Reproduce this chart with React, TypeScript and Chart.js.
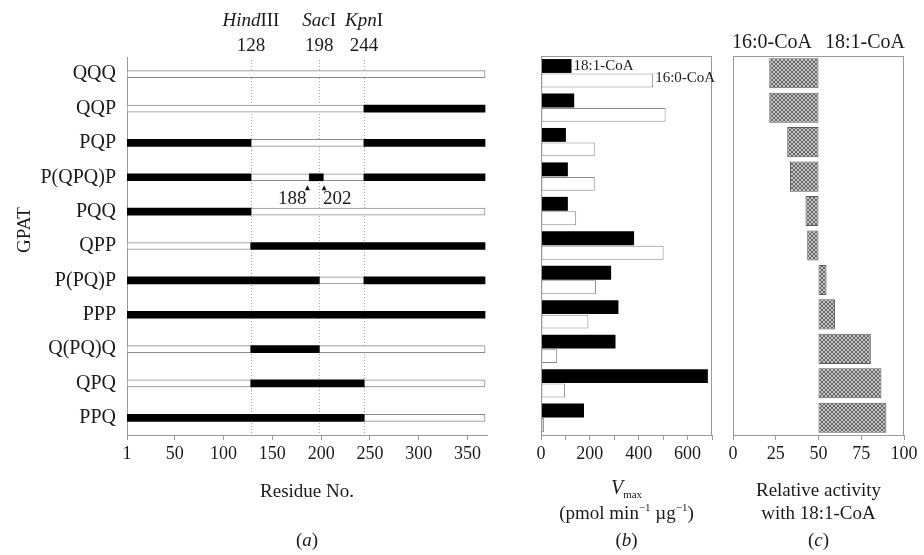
import React, { useEffect, useRef } from 'react';
import { Chart, registerables } from 'chart.js';

Chart.register(...registerables);

// ---------------- data ----------------
const constructs = ['QQQ', 'QQP', 'PQP', 'P(QPQ)P', 'PQQ', 'QPP', 'P(PQ)P', 'PPP', 'Q(PQ)Q', 'QPQ', 'PPQ'];
// residue boundaries of the swapped regions
const regionBounds = [1, 128, 188, 198, 202, 244, 368];
// origin (P or Q) of each region for every construct
const regionSources = ['QQQQQQ', 'QQQQQP', 'PQQQQP', 'PQPPQP', 'PQQQQQ', 'QPPPPP', 'PPPQQP', 'PPPPPP', 'QPPQQQ', 'QPPPPQ', 'PPPPPQ'];
const siteNames = ['Hind', 'Sac', 'Kpn'];
const siteSuffix = ['III', 'I', 'I'];
const sitePositions = [128, 198, 244];
const arrowSites = [188, 202];
const residueTicks = [1, 50, 100, 150, 200, 250, 300, 350];

const vmax181CoA = [125, 136, 102, 110, 110, 381, 287, 317, 305, 683, 176];
const vmax160CoA = [459, 510, 220, 220, 144, 502, 225, 194, 66, 98, 12];
const relActivity181 = [21.2, 21.2, 31.7, 33.3, 42.4, 43.4, 54.7, 59.7, 80.6, 86.8, 89.7];

// ---------------- helpers ----------------
const SERIF = "'Liberation Serif', 'Times New Roman', serif";
const TXT = '#1a1a1a';
type Run = { t: string; size: number; italic?: boolean; dy?: number };
const fontOf = (r: Run) => `${r.italic ? 'italic ' : ''}${r.size}px ${SERIF}`;

function drawRuns(ctx: CanvasRenderingContext2D, runs: Run[], x: number, y: number, align: 'left' | 'center' | 'right' = 'center') {
  ctx.save();
  ctx.fillStyle = TXT;
  ctx.textBaseline = 'middle';
  ctx.textAlign = 'left';
  let total = 0;
  const widths = runs.map((r) => {
    ctx.font = fontOf(r);
    const w = ctx.measureText(r.t).width;
    total += w;
    return w;
  });
  let cx = align === 'center' ? x - total / 2 : align === 'right' ? x - total : x;
  runs.forEach((r, i) => {
    ctx.font = fontOf(r);
    ctx.fillText(r.t, cx, y + (r.dy || 0));
    cx += widths[i];
  });
  ctx.restore();
}

function runsOf(src: string) {
  const out: { type: string; start: number; end: number }[] = [];
  for (let i = 0; i < src.length; i++) {
    const type = src[i];
    const last = out[out.length - 1];
    if (last && last.type === type) last.end = regionBounds[i + 1];
    else out.push({ type, start: regionBounds[i], end: regionBounds[i + 1] });
  }
  return out;
}

function makeHatch(): CanvasPattern | string {
  const c = document.createElement('canvas');
  c.width = 4;
  c.height = 4;
  const g = c.getContext('2d');
  if (!g) return '#999';
  g.fillStyle = '#c4c4c4';
  g.fillRect(0, 0, 4, 4);
  g.fillStyle = '#666';
  for (let i = 0; i < 4; i++) {
    g.fillRect(i, i, 1, 1);
    g.fillRect(3 - i, i, 1, 1);
  }
  return g.createPattern(c, 'repeat') || '#999';
}

const tickFont = { family: SERIF, size: 18 };
const axisGrey = '#9a9a9a';

// ---------------- panel (a) ----------------
function makeA(canvas: HTMLCanvasElement) {
  const rowRuns = regionSources.map(runsOf);
  const datasets: any[] = [];
  (['P', 'Q'] as const).forEach((type) => {
    const maxN = Math.max(...rowRuns.map((r) => r.filter((s) => s.type === type).length));
    for (let k = 0; k < maxN; k++) {
      datasets.push({
        label: `${type}${k}`,
        data: rowRuns.map((r) => {
          const s = r.filter((q) => q.type === type)[k];
          return s ? [s.start, s.end] : null;
        }),
        backgroundColor: type === 'P' ? '#000' : '#fff',
        borderColor: type === 'P' ? '#000' : '#8a8a8a',
        borderWidth: type === 'P' ? 0 : 1,
        borderSkipped: false,
        barThickness: 7,
        grouped: false,
        order: type === 'P' ? 0 : 1,
      });
    }
  });

  const deco = {
    id: 'decoA',
    beforeDatasetsDraw(chart: any) {
      const { ctx, chartArea, scales } = chart;
      ctx.save();
      ctx.strokeStyle = '#a8a8a8';
      ctx.lineWidth = 1;
      ctx.setLineDash([1, 2]);
      sitePositions.forEach((p) => {
        const x = Math.round(scales.x.getPixelForValue(p)) + 0.5;
        ctx.beginPath();
        ctx.moveTo(x, 60);
        ctx.lineTo(x, chartArea.bottom);
        ctx.stroke();
      });
      ctx.restore();
    },
    afterDraw(chart: any) {
      const { ctx, chartArea, scales } = chart;
      sitePositions.forEach((p, i) => {
        const x = scales.x.getPixelForValue(p);
        drawRuns(ctx, [{ t: siteNames[i], size: 19, italic: true }, { t: siteSuffix[i], size: 19 }], x, 21);
        drawRuns(ctx, [{ t: String(p), size: 19 }], x, 46);
      });
      // arrows under P(QPQ)P
      const rowY = scales.y.getPixelForValue(3);
      ctx.save();
      ctx.fillStyle = '#111';
      arrowSites.forEach((p, i) => {
        const x = scales.x.getPixelForValue(p) + (i === 0 ? -2 : 1);
        ctx.beginPath();
        ctx.moveTo(x, rowY + 8);
        ctx.lineTo(x - 2.5, rowY + 13);
        ctx.lineTo(x + 2.5, rowY + 13);
        ctx.closePath();
        ctx.fill();
        if (i === 0) drawRuns(ctx, [{ t: String(p), size: 19 }], x - 1, rowY + 22, 'right');
        else drawRuns(ctx, [{ t: String(p), size: 19 }], x - 1, rowY + 22, 'left');
      });
      ctx.restore();
      // GPAT
      ctx.save();
      ctx.translate(25, 230);
      ctx.rotate(-Math.PI / 2);
      drawRuns(ctx, [{ t: 'GPAT', size: 19 }], 0, 0);
      ctx.restore();
      const cx = (chartArea.left + chartArea.right) / 2;
      drawRuns(ctx, [{ t: 'Residue No.', size: 19 }], cx, 492);
      drawRuns(ctx, [{ t: '(', size: 19 }, { t: 'a', size: 19, italic: true }, { t: ')', size: 19 }], cx, 541);
    },
  };

  return new Chart(canvas, {
    type: 'bar',
    data: { labels: constructs, datasets },
    options: {
      indexAxis: 'y',
      responsive: false,
      animation: false,
      devicePixelRatio: 1,
      layout: { padding: { left: 0, top: 57, right: 437, bottom: 0 } },
      plugins: { legend: { display: false }, tooltip: { enabled: false } },
      scales: {
        x: {
          type: 'linear',
          min: 1,
          max: 370,
          afterBuildTicks: (s: any) => {
            s.ticks = residueTicks.map((value) => ({ value }));
          },
          afterFit: (s: any) => {
            s.height = 120;
          },
          grid: { display: true, drawOnChartArea: false, tickLength: 5, color: axisGrey },
          border: { display: true, color: axisGrey },
          ticks: { font: tickFont, color: TXT, padding: 3, maxRotation: 0, autoSkip: false },
        },
        y: {
          type: 'category',
          afterFit: (s: any) => {
            s.width = 127;
          },
          grid: { display: false },
          border: { display: true, color: axisGrey },
          ticks: { font: { family: SERIF, size: 20 }, color: TXT, padding: 3 },
        },
      },
    },
    plugins: [deco],
  } as any);
}

// ---------------- panel (b) ----------------
function makeB(canvas: HTMLCanvasElement) {
  const deco = {
    id: 'decoB',
    afterDraw(chart: any) {
      const { ctx, chartArea } = chart;
      ctx.save();
      ctx.strokeStyle = axisGrey;
      ctx.lineWidth = 1;
      ctx.strokeRect(chartArea.left + 0.5, chartArea.top + 0.5, chartArea.width - 1, chartArea.height);
      ctx.restore();
      const b0 = chart.getDatasetMeta(0).data[0];
      const w0 = chart.getDatasetMeta(1).data[0];
      drawRuns(ctx, [{ t: '18:1-CoA', size: 15 }], b0.x + 2, b0.y, 'left');
      drawRuns(ctx, [{ t: '16:0-CoA', size: 15 }], w0.x + 2, w0.y - 2, 'left');
      const cx = (chartArea.left + chartArea.right) / 2;
      drawRuns(ctx, [{ t: 'V', size: 20, italic: true }, { t: 'max', size: 11, dy: 6 }], cx, 489);
      drawRuns(
        ctx,
        [
          { t: '(pmol min', size: 19 },
          { t: '\u22121', size: 11, dy: -6 },
          { t: ' \u00b5g', size: 19 },
          { t: '\u22121', size: 11, dy: -6 },
          { t: ')', size: 19 },
        ],
        cx,
        514,
      );
      drawRuns(ctx, [{ t: '(', size: 19 }, { t: 'b', size: 19, italic: true }, { t: ')', size: 19 }], cx, 541);
    },
  };
  return new Chart(canvas, {
    type: 'bar',
    data: {
      labels: constructs,
      datasets: [
        {
          label: '18:1-CoA',
          data: vmax181CoA,
          backgroundColor: '#000',
          borderWidth: 0,
          categoryPercentage: 0.84,
          barPercentage: 0.96,
        },
        {
          label: '16:0-CoA',
          data: vmax160CoA,
          backgroundColor: '#fff',
          borderColor: '#8a8a8a',
          borderWidth: 1,
          borderSkipped: false,
          categoryPercentage: 0.84,
          barPercentage: 0.96,
        },
      ],
    },
    options: {
      indexAxis: 'y',
      responsive: false,
      animation: false,
      devicePixelRatio: 1,
      layout: { padding: { left: 541, top: 56, right: 212, bottom: 0 } },
      plugins: { legend: { display: false }, tooltip: { enabled: false } },
      scales: {
        x: {
          type: 'linear',
          min: 0,
          max: 700,
          afterFit: (s: any) => {
            s.height = 120;
          },
          grid: { display: true, drawOnChartArea: false, tickLength: 5, color: axisGrey },
          border: { display: true, color: axisGrey },
          ticks: {
            stepSize: 100,
            font: tickFont,
            color: TXT,
            padding: 3,
            maxRotation: 0,
            autoSkip: false,
            callback: (v: any) => (Number(v) % 200 === 0 && Number(v) < 700 ? String(v) : ''),
          },
        },
        y: { type: 'category', display: false },
      },
    },
    plugins: [deco],
  } as any);
}

// ---------------- panel (c) ----------------
function makeC(canvas: HTMLCanvasElement) {
  const hatch = makeHatch();
  const deco = {
    id: 'decoC',
    afterDraw(chart: any) {
      const { ctx, chartArea } = chart;
      ctx.save();
      ctx.strokeStyle = axisGrey;
      ctx.lineWidth = 1;
      ctx.strokeRect(chartArea.left + 0.5, chartArea.top + 0.5, chartArea.width - 1, chartArea.height);
      ctx.restore();
      drawRuns(ctx, [{ t: '16:0-CoA', size: 20 }], chartArea.left - 1, 43, 'left');
      drawRuns(ctx, [{ t: '18:1-CoA', size: 20 }], chartArea.right + 1, 43, 'right');
      const cx = (chartArea.left + chartArea.right) / 2;
      drawRuns(ctx, [{ t: 'Relative activity', size: 19 }], cx, 491);
      drawRuns(ctx, [{ t: 'with 18:1-CoA', size: 19 }], cx, 514);
      drawRuns(ctx, [{ t: '(', size: 19 }, { t: 'c', size: 19, italic: true }, { t: ')', size: 19 }], cx, 541);
    },
  };
  return new Chart(canvas, {
    type: 'bar',
    data: {
      labels: constructs,
      datasets: [
        {
          label: 'relative activity',
          data: relActivity181.map((v) => [50, v]),
          backgroundColor: hatch,
          borderColor: '#5a5a5a',
          borderWidth: 1,
          borderSkipped: false,
          categoryPercentage: 0.9,
          barPercentage: 0.97,
        },
      ],
    },
    options: {
      indexAxis: 'y',
      responsive: false,
      animation: false,
      devicePixelRatio: 1,
      layout: { padding: { left: 733, top: 56, right: 20, bottom: 0 } },
      plugins: { legend: { display: false }, tooltip: { enabled: false } },
      scales: {
        x: {
          type: 'linear',
          min: 0,
          max: 100,
          afterFit: (s: any) => {
            s.height = 120;
          },
          grid: { display: true, drawOnChartArea: false, tickLength: 5, color: axisGrey },
          border: { display: true, color: axisGrey },
          ticks: { stepSize: 25, font: tickFont, color: TXT, padding: 3, maxRotation: 0, autoSkip: false },
        },
        y: { type: 'category', display: false },
      },
    },
    plugins: [deco],
  } as any);
}

export default function App() {
  const refA = useRef<HTMLCanvasElement>(null);
  const refB = useRef<HTMLCanvasElement>(null);
  const refC = useRef<HTMLCanvasElement>(null);
  useEffect(() => {
    const charts = [makeA(refA.current!), makeB(refB.current!), makeC(refC.current!)];
    return () => charts.forEach((c) => c.destroy());
  }, []);
  const cs: React.CSSProperties = { position: 'absolute', left: 0, top: 0, width: 924, height: 555 };
  return (
    <div style={{ position: 'absolute', left: 0, top: 0, width: 924, height: 555, background: '#fff', overflow: 'hidden' }}>
      <canvas ref={refA} width={924} height={555} style={cs} />
      <canvas ref={refB} width={924} height={555} style={cs} />
      <canvas ref={refC} width={924} height={555} style={cs} />
    </div>
  );
}
